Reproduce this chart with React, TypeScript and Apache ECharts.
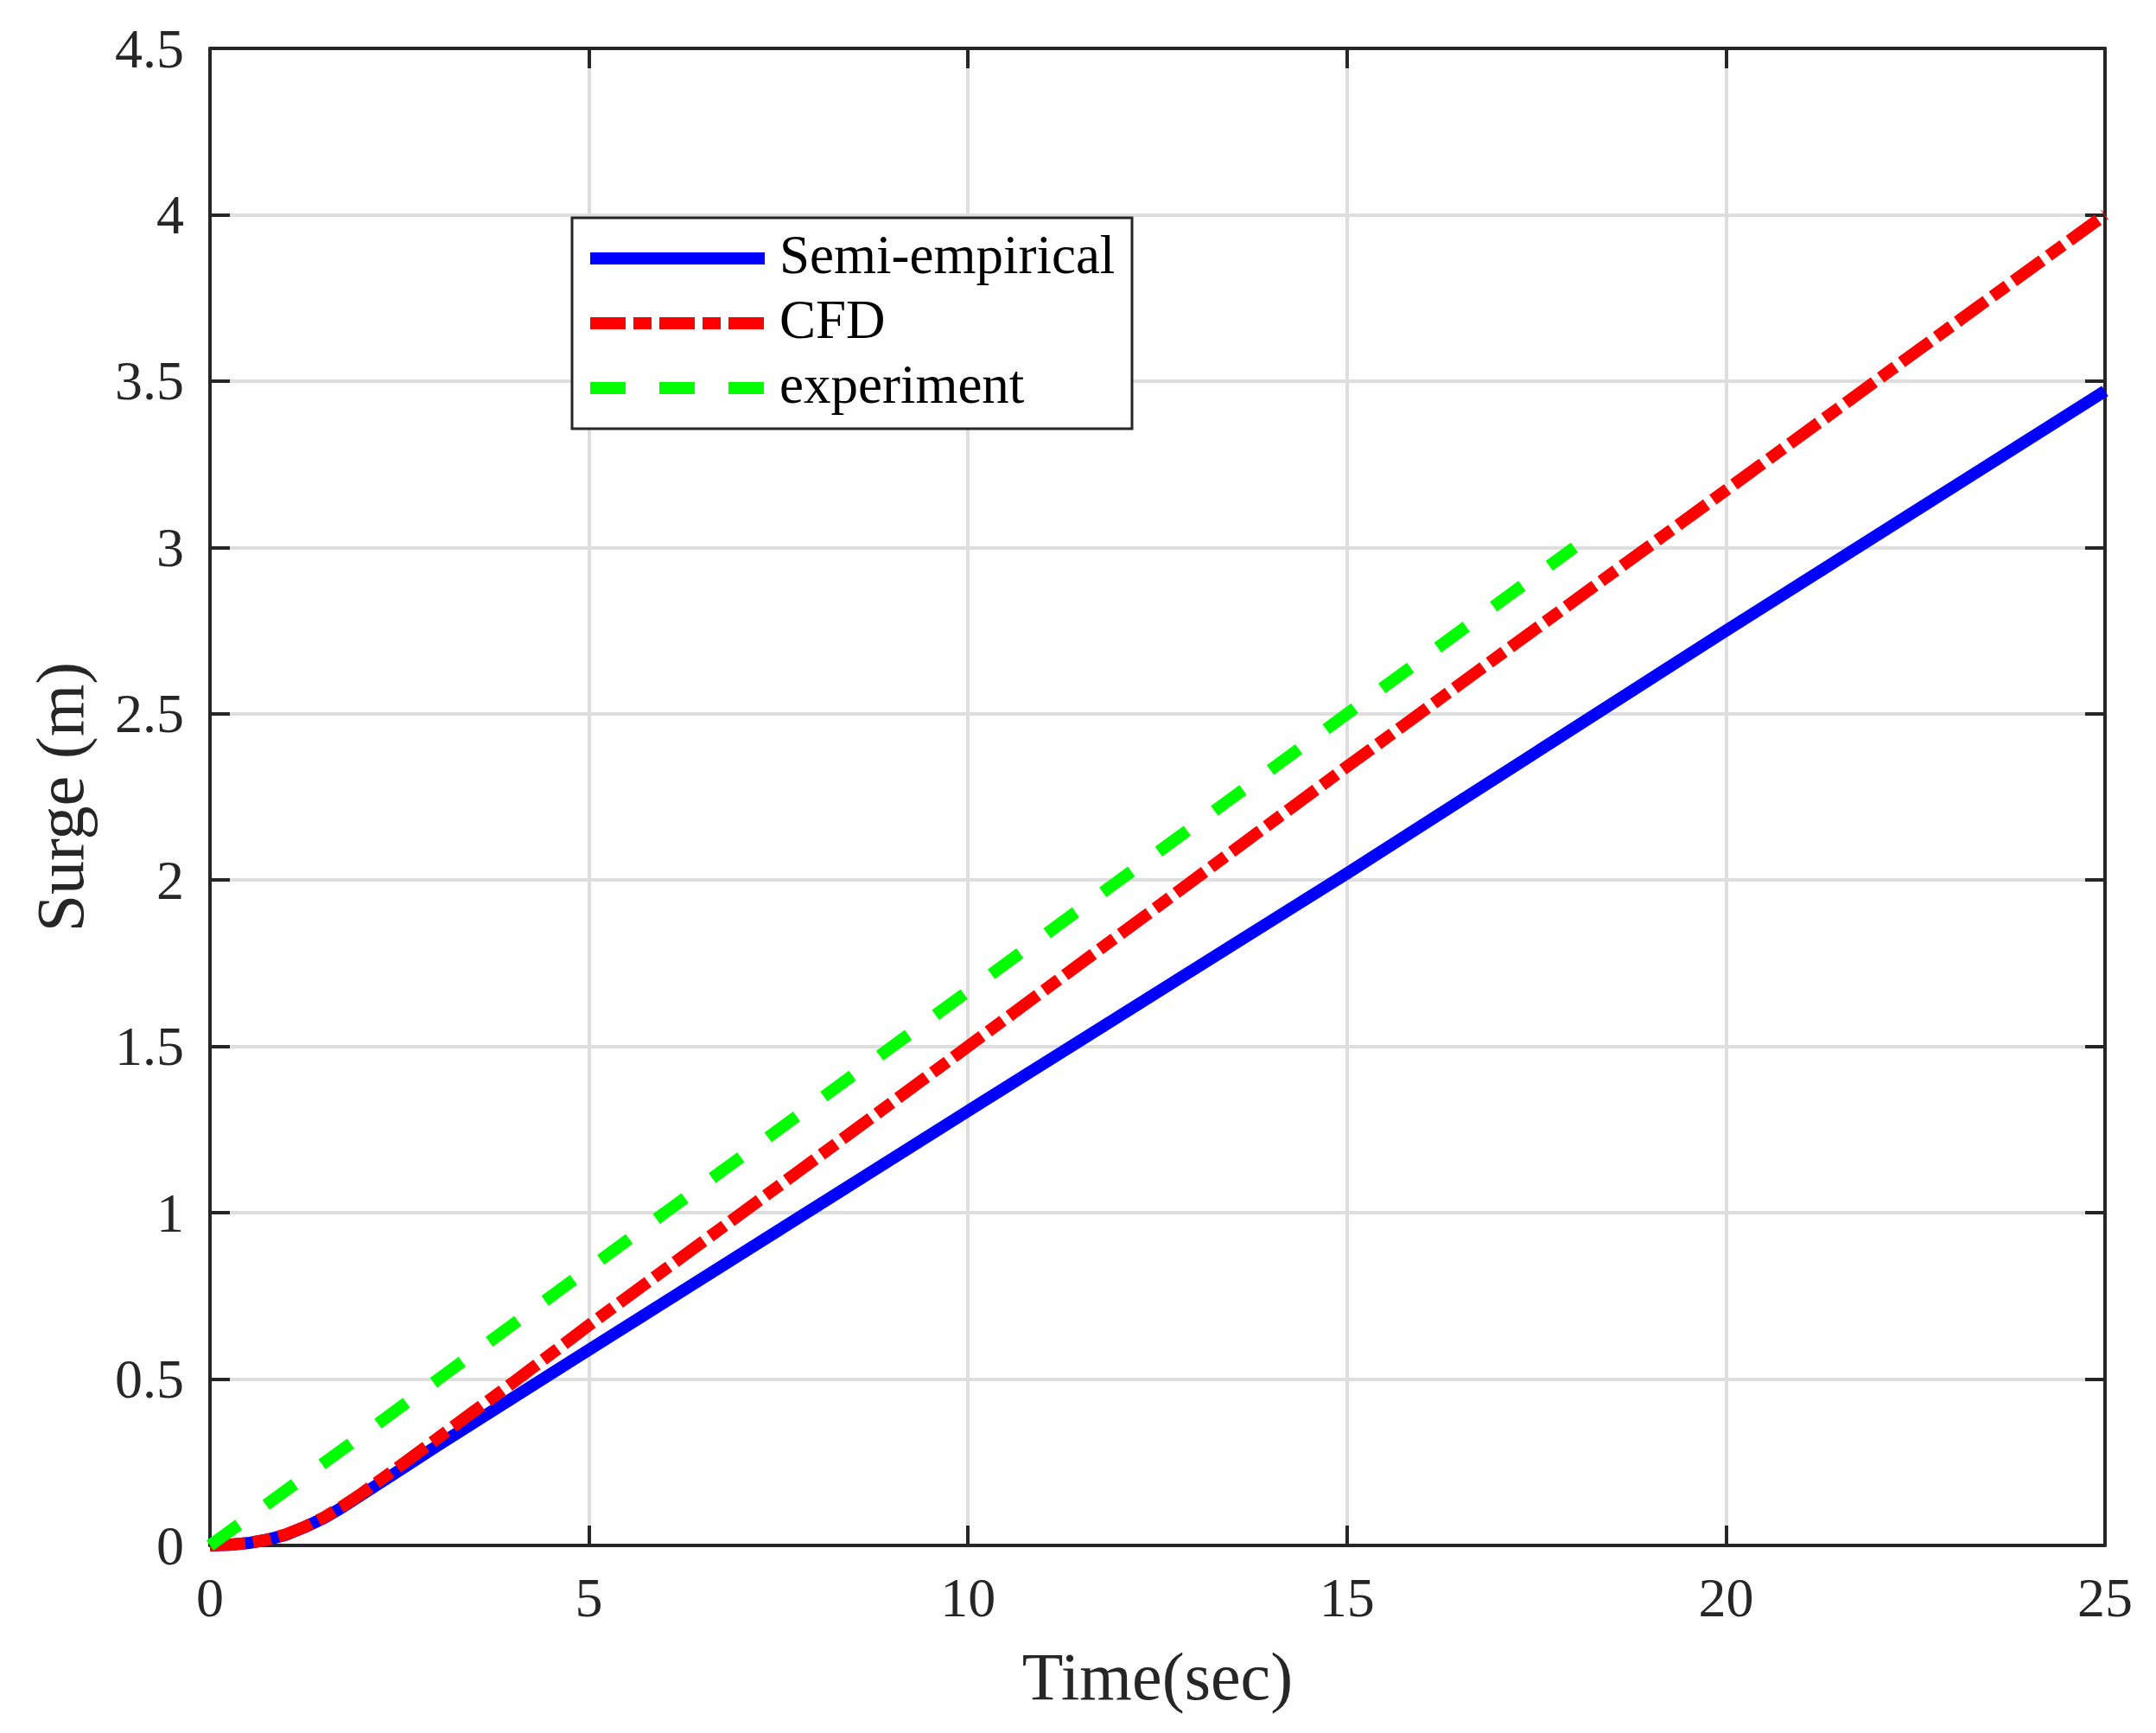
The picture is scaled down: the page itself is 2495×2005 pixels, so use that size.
import React, { useEffect, useRef } from "react";
import * as echarts from "echarts";

// ---- Data ----
const semiT = [0, 0.25, 0.5, 0.75, 1, 1.25, 1.5, 1.75, 2, 2.5, 3, 3.5, 4, 4.5, 5, 7.5, 10, 12.5, 15, 17.5, 20, 22.5, 25];
const semiY = [0, 0.002, 0.007, 0.017, 0.032, 0.055, 0.082, 0.115, 0.152, 0.226, 0.3, 0.372, 0.444, 0.516, 0.588, 0.947, 1.306, 1.663, 2.02, 2.385, 2.75, 3.11, 3.47];

const cfdT = [0, 0.25, 0.5, 0.75, 1, 1.25, 1.5, 1.75, 2, 2.5, 3, 3.5, 4, 4.5, 5, 7.5, 10, 12.5, 15, 17.5, 20, 22.5, 25];
const cfdY = [0, 0.002, 0.007, 0.017, 0.033, 0.056, 0.084, 0.118, 0.156, 0.238, 0.322, 0.406, 0.49, 0.576, 0.662, 1.08, 1.5, 1.92, 2.341, 2.757, 3.172, 3.587, 4.0];

const expT = [0, 2, 4, 6, 8, 10, 12, 14, 16, 18];
const expY = [0, 0.33, 0.665, 1.0, 1.333, 1.666, 2.0, 2.333, 2.666, 3.0];

const seriesNames = ["Semi-empirical", "CFD", "experiment"];
const xTicks = { min: 0, max: 25, interval: 5 };
const yTicks = { min: 0, max: 4.5, interval: 0.5 };

const FONT = "'Liberation Serif', 'Times New Roman', serif";
const AXIS_COLOR = "#262626";
const GRID_COLOR = "#dedede";
const COLORS = ["#0000ff", "#ff0000", "#00ff00"];
const DASHES: (number[] | "solid")[] = ["solid", [41, 9, 21, 9], [41, 39]];
const LINE_W = 14;

function zip(t: number[], y: number[]) {
  return t.map((v, i) => [v, y[i]]);
}

export default function App() {
  const ref = useRef<HTMLDivElement>(null);

  useEffect(() => {
    document.body.style.margin = "0";
    document.body.style.overflow = "hidden";
    if (!ref.current) return;
    const chart = echarts.init(ref.current, undefined, { renderer: "svg" });

    const axisLine = { show: true, onZero: false, lineStyle: { color: AXIS_COLOR, width: 4 } };
    const axisTick = { show: true, inside: true, length: 23, lineStyle: { color: AXIS_COLOR, width: 4 } };

    const legendRows = [299, 374, 449];
    const legendGraphics: any[] = [
      {
        type: "rect",
        z: 100,
        shape: { x: 662, y: 252, width: 648, height: 244 },
        style: { fill: "#ffffff", stroke: AXIS_COLOR, lineWidth: 3 },
      },
    ];
    seriesNames.forEach((name, i) => {
      const dash = DASHES[i];
      legendGraphics.push({
        type: "line",
        z: 101,
        shape: { x1: 683, y1: legendRows[i], x2: 885, y2: legendRows[i] },
        style: {
          stroke: COLORS[i],
          lineWidth: LINE_W,
          lineCap: "butt",
          lineDash: dash === "solid" ? null : dash,
        },
      });
      legendGraphics.push({
        type: "text",
        z: 101,
        x: 902,
        y: legendRows[i] - 4,
        style: {
          text: name,
          fontSize: 63,
          fontFamily: FONT,
          fill: "#000000",
          align: "left",
          verticalAlign: "middle",
        },
      });
    });

    const dataSets = [zip(semiT, semiY), zip(cfdT, cfdY), zip(expT, expY)];

    chart.setOption({
      animation: false,
      backgroundColor: "#ffffff",
      grid: { left: 243, right: 59, top: 56, bottom: 217, containLabel: false },
      xAxis: [
        {
          type: "value",
          position: "bottom",
          ...xTicks,
          axisLine,
          axisTick,
          axisLabel: { margin: 28, fontSize: 64, fontFamily: FONT, color: AXIS_COLOR },
          splitLine: { show: true, lineStyle: { color: GRID_COLOR, width: 4 } },
          name: "Time(sec)",
          nameLocation: "middle",
          nameGap: 112,
          nameTextStyle: { fontSize: 78, fontFamily: FONT, color: AXIS_COLOR },
        },
        {
          type: "value",
          position: "top",
          ...xTicks,
          axisLine,
          axisTick,
          axisLabel: { show: false },
          splitLine: { show: false },
        },
      ],
      yAxis: [
        {
          type: "value",
          position: "left",
          ...yTicks,
          axisLine,
          axisTick,
          axisLabel: { margin: 30, fontSize: 64, fontFamily: FONT, color: AXIS_COLOR },
          splitLine: { show: true, lineStyle: { color: GRID_COLOR, width: 4 } },
          name: "Surge (m)",
          nameLocation: "middle",
          nameGap: 135,
          nameTextStyle: { fontSize: 78, fontFamily: FONT, color: AXIS_COLOR },
        },
        {
          type: "value",
          position: "right",
          ...yTicks,
          axisLine,
          axisTick,
          axisLabel: { show: false },
          splitLine: { show: false },
        },
      ],
      series: seriesNames.map((name, i) => ({
        name,
        type: "line",
        xAxisIndex: 0,
        yAxisIndex: 0,
        data: dataSets[i],
        showSymbol: false,
        symbol: "none",
        smooth: false,
        clip: true,
        z: 2 + i,
        lineStyle: {
          color: COLORS[i],
          width: LINE_W,
          type: DASHES[i],
          cap: "butt",
          join: "round",
        },
      })),
      graphic: legendGraphics,
    });

    return () => {
      chart.dispose();
    };
  }, []);

  return <div ref={ref} style={{ width: 2495, height: 2005 }} />;
}
